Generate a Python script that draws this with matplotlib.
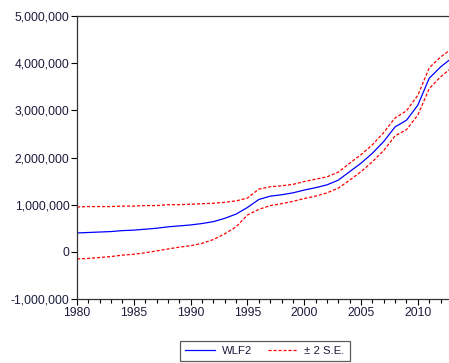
#!/usr/bin/env python3
'''
Forecast of WLF2 with +/- 2 S.E. band
'''

import numpy as np
import matplotlib
matplotlib.use('Agg')
import matplotlib.pyplot as plt
import matplotlib.ticker as mticker

years = list(range(1980, 2014))

# values in millions
wlf2 = [0.40, 0.41, 0.42, 0.43, 0.45, 0.46, 0.48, 0.50, 0.53, 0.55,
        0.57, 0.60, 0.64, 0.71, 0.80, 0.94, 1.11, 1.18, 1.21, 1.25,
        1.31, 1.36, 1.42, 1.52, 1.70, 1.88, 2.09, 2.34, 2.65, 2.79,
        3.11, 3.68, 3.92, 4.11]
upper = [0.95, 0.96, 0.96, 0.96, 0.97, 0.97, 0.98, 0.98, 1.00, 1.00,
         1.01, 1.02, 1.03, 1.05, 1.08, 1.14, 1.33, 1.38, 1.40, 1.43,
         1.49, 1.54, 1.59, 1.69, 1.88, 2.06, 2.27, 2.53, 2.84, 2.99,
         3.32, 3.90, 4.13, 4.31]
lower = [-0.15, -0.14, -0.12, -0.10, -0.07, -0.05, -0.02, 0.02, 0.06, 0.10,
         0.13, 0.18, 0.26, 0.38, 0.53, 0.78, 0.90, 0.98, 1.02, 1.07,
         1.13, 1.18, 1.25, 1.35, 1.52, 1.70, 1.91, 2.15, 2.46, 2.59,
         2.90, 3.46, 3.71, 3.91]

plt.rcParams['font.family'] = ['Liberation Sans', 'DejaVu Sans']

fig = plt.figure(figsize=(4.49, 3.63), dpi=100)
ax = fig.add_axes([0.1715, 0.1763, 0.835, 0.7796])

scale = 1e6
ax.plot(years, np.array(wlf2) * scale, color='#0000ff', lw=0.9, label='WLF2')
ax.plot(years, np.array(upper) * scale, color='#ff0000', lw=0.9,
        ls=(0, (2.5, 1.5)), label='± 2 S.E.')
ax.plot(years, np.array(lower) * scale, color='#ff0000', lw=0.9,
        ls=(0, (2.5, 1.5)))

ax.set_xlim(1980, 2013)
ax.set_ylim(-1e6, 5e6)
ax.xaxis.set_major_locator(mticker.MultipleLocator(5))
ax.xaxis.set_minor_locator(mticker.MultipleLocator(1))
ax.yaxis.set_major_locator(mticker.MultipleLocator(1e6))
ax.yaxis.set_major_formatter(mticker.FuncFormatter(lambda v, p: f'{int(v):,}'))

txtcol = '#1c1c3c'
ax.tick_params(axis='both', which='major', direction='out', length=4,
               width=0.8, labelsize=8.7, labelcolor=txtcol, pad=1.5)
ax.tick_params(axis='x', which='minor', direction='out', length=3, width=0.8)
for s in ax.spines.values():
    s.set_linewidth(0.9)
    s.set_color('#333333')

leg = fig.legend(loc='center', bbox_to_anchor=(0.59, 0.033), ncol=2,
                 fontsize=8.2, frameon=True, fancybox=False,
                 edgecolor='#333333', handlelength=2.6, columnspacing=1.4,
                 borderpad=0.45, handletextpad=0.6, labelcolor=txtcol)
leg.get_frame().set_linewidth(0.9)

fig.savefig('out.png', dpi=100)
